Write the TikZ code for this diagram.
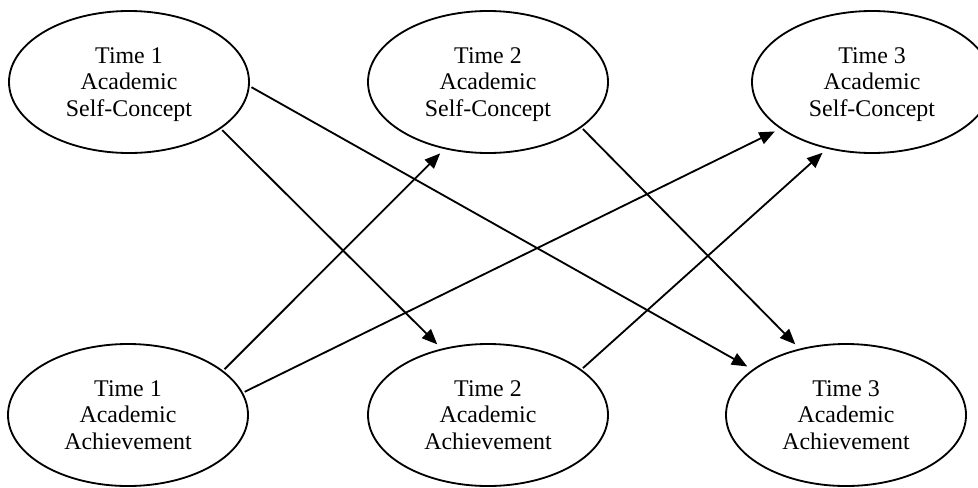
\documentclass[tikz,border=0pt]{standalone}
\usepackage{fontspec}
\setmainfont{Liberation Serif}
\usepackage{tikz}
\usetikzlibrary{arrows.meta,shapes.geometric}

\begin{document}
\begin{tikzpicture}[
  var/.style={draw, ellipse, line width=1.3pt, minimum width=6cm, minimum height=3.55cm,
    inner sep=0pt, align=center, text depth=0pt, font=\fontsize{17}{19}\selectfont},
  effect/.style={line width=1.3pt, -{Triangle[length=11pt,width=9pt]},
    shorten >=0.15cm, shorten <=0.05cm}]
\useasboundingbox (0,0) rectangle (24.45,-12.175);

% self-concept, top row
\node[var] (asc1) at (3.225,-2.05) {Time 1\\Academic\\Self-Concept};
\node[var] (asc2) at (12.2,-2.05) {Time 2\\Academic\\Self-Concept};
\node[var] (asc3) at (21.8,-2.05) {Time 3\\Academic\\Self-Concept};

% achievement, bottom row
\node[var] (ach1) at (3.2,-10.375) {Time 1\\Academic\\Achievement};
\node[var] (ach2) at (12.2,-10.375) {Time 2\\Academic\\Achievement};
\node[var] (ach3) at (21.15,-10.375) {Time 3\\Academic\\Achievement};

\draw[effect] (asc1.-27) -- (ach2.125);
\draw[effect] (asc1.-2) -- (ach3.154);
\draw[effect] (ach1.25) -- (asc2.237);
\draw[effect] (ach1.11) -- (asc3.207);
\draw[effect] (asc2.-26) -- (ach3.125);
\draw[effect] (ach2.26) -- (asc3.236);

\end{tikzpicture}
\end{document}
